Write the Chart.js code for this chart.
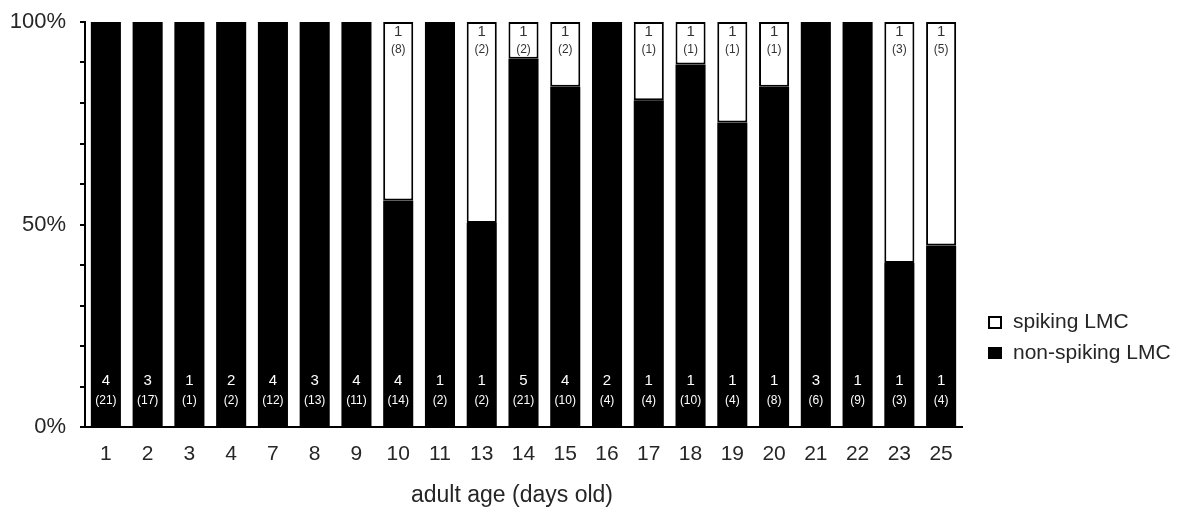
<!DOCTYPE html>
<html>
<head>
<meta charset="utf-8">
<script src="https://cdn.jsdelivr.net/npm/chart.js@4/dist/chart.umd.min.js"></script>
<style>
  html, body { margin: 0; padding: 0; background: #fff; }
  #wrap { width: 1194px; height: 511px; position: relative; }
</style>
</head>
<body>
<div id="wrap"><canvas id="c" width="1194" height="511"></canvas></div>
<script>
// Adult age of the recorded flies (days old)
const ages = ['1','2','3','4','7','8','9','10','11','13','14','15','16','17','18','19','20','21','22','23','25'];

// Share of cells in each class (%)
const nonSpikingPct = [100,100,100,100,100,100,100,55.9,100,50.4,90.9,84.0,100,80.7,89.5,75.2,84.0,100,100,40.5,44.8];
const spikingPct    = [0,0,0,0,0,0,0,44.1,0,49.6,9.1,16.0,0,19.3,10.5,24.8,16.0,0,0,59.5,55.2];

// Animals and (cells) behind each class
const nonSpikingAnimals = [4,3,1,2,4,3,4,4,1,1,5,4,2,1,1,1,1,3,1,1,1];
const nonSpikingCells   = [21,17,1,2,12,13,11,14,2,2,21,10,4,4,10,4,8,6,9,3,4];
const spikingAnimals    = [0,0,0,0,0,0,0,1,0,1,1,1,0,1,1,1,1,0,0,1,1];
const spikingCells      = [0,0,0,0,0,0,0,8,0,2,2,2,0,1,1,1,1,0,0,3,5];

// Y tick labels shown on the percentage axis
const yTickLabels = { 0: '0%', 50: '50%', 100: '100%' };

const legendItems = ['spiking LMC', 'non-spiking LMC'];
const xTitle = 'adult age (days old)';

const FONT = "'Liberation Sans', Arial, sans-serif";
const TEXT = '#262626';

// n animals / (n cells) printed inside each bar segment
const countLabels = {
  id: 'countLabels',
  afterDatasetsDraw(chart) {
    const ctx = chart.ctx;
    const y = chart.scales.y;
    const base = y.getPixelForValue(0);
    const top = y.getPixelForValue(100);
    const metaN = chart.getDatasetMeta(0);
    ctx.save();
    ctx.textAlign = 'center';
    ctx.textBaseline = 'middle';
    metaN.data.forEach((bar, i) => {
      const x = bar.x;
      ctx.fillStyle = '#ffffff';
      ctx.font = '15px ' + FONT;
      ctx.fillText(String(nonSpikingAnimals[i]), x, base - 46);
      ctx.font = '12px ' + FONT;
      ctx.fillText('(' + nonSpikingCells[i] + ')', x, base - 26);
      if (spikingAnimals[i] > 0) {
        ctx.fillStyle = '#333333';
        ctx.font = '15px ' + FONT;
        ctx.fillText(String(spikingAnimals[i]), x, top + 10);
        ctx.font = '12px ' + FONT;
        ctx.fillText('(' + spikingCells[i] + ')', x, top + 28);
      }
    });
    ctx.restore();
  }
};

// Legend on the right and the x axis title
const sideText = {
  id: 'sideText',
  afterDraw(chart) {
    const ctx = chart.ctx;
    ctx.save();
    // spiking: open box
    ctx.lineWidth = 2;
    ctx.strokeStyle = '#000';
    ctx.fillStyle = '#fff';
    ctx.fillRect(989, 317, 12, 11);
    ctx.strokeRect(989, 317, 12, 11);
    // non-spiking: filled box
    ctx.fillStyle = '#000';
    ctx.fillRect(988, 347, 14, 12);
    ctx.fillStyle = TEXT;
    ctx.font = '21px ' + FONT;
    ctx.textAlign = 'left';
    ctx.textBaseline = 'middle';
    ctx.fillText(legendItems[0], 1013, 322);
    ctx.fillText(legendItems[1], 1013, 353);
    // axis title
    ctx.textAlign = 'center';
    ctx.font = '23px ' + FONT;
    ctx.fillText(xTitle, 512, 496);
    ctx.restore();
  }
};

new Chart(document.getElementById('c'), {
  type: 'bar',
  data: {
    labels: ages,
    datasets: [
      {
        label: legendItems[1],
        data: nonSpikingPct,
        backgroundColor: '#000000',
        borderColor: '#000000',
        borderWidth: 0,
        barPercentage: 0.72,
        categoryPercentage: 1.0
      },
      {
        label: legendItems[0],
        data: spikingPct,
        backgroundColor: '#ffffff',
        borderColor: '#000000',
        borderWidth: 2,
        borderSkipped: false,
        barPercentage: 0.72,
        categoryPercentage: 1.0
      }
    ]
  },
  options: {
    responsive: false,
    animation: false,
    layout: { padding: { top: 22, right: 232, left: 0, bottom: 0 } },
    plugins: {
      legend: { display: false },
      tooltip: { enabled: false }
    },
    scales: {
      x: {
        stacked: true,
        offset: true,
        grid: { display: false },
        border: { display: true, color: '#000', width: 2 },
        ticks: {
          color: TEXT,
          font: { family: FONT, size: 21 },
          padding: 7,
          maxRotation: 0,
          autoSkip: false
        },
        afterFit(scale) { scale.height = 84; }
      },
      y: {
        stacked: true,
        min: 0,
        max: 100,
        grid: {
          display: true,
          drawOnChartArea: false,
          drawTicks: true,
          tickLength: 5,
          color: '#000',
          lineWidth: 2
        },
        border: { display: true, color: '#000', width: 2 },
        ticks: {
          stepSize: 10,
          color: TEXT,
          font: { family: FONT, size: 22 },
          padding: 14,
          callback: (v) => (yTickLabels[v] !== undefined ? yTickLabels[v] : '')
        },
        afterFit(scale) {
          scale.width = 85;
          scale.paddingTop = 0;
          scale.paddingBottom = 0;
        }
      }
    }
  },
  plugins: [countLabels, sideText]
});
</script>
</body>
</html>
